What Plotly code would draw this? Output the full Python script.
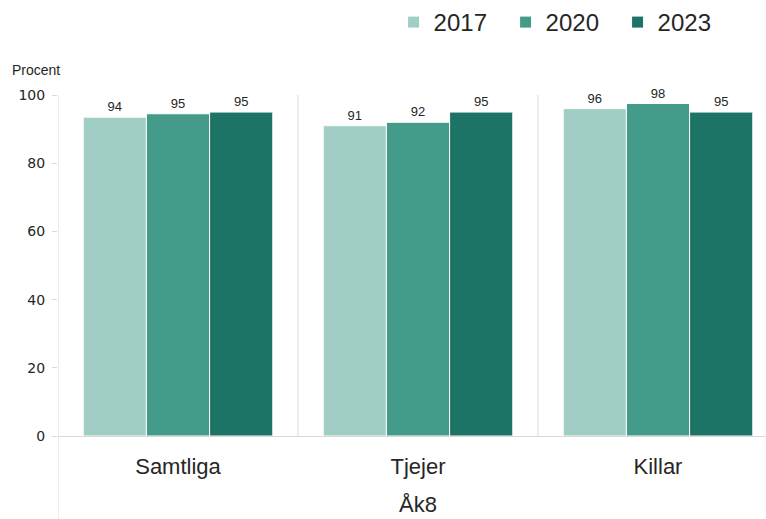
import math
import plotly.graph_objects as go

categories = ["Samtliga", "Tjejer", "Killar"]
group_label = "Åk8"
series_names = ["2017", "2020", "2023"]
v2017 = [93.5, 91.0, 96.0]
v2020 = [94.5, 92.0, 97.5]
v2023 = [95.0, 95.0, 95.0]
y_ticks = [0, 20, 40, 60, 80, 100]
y_title = "Procent"

colors = ["#A0CEC4", "#449B89", "#1C7366"]
FONT = "Liberation Sans"
WIDE = "DejaVu Sans"
TXT = "#262626"
GRID = "#D9D9D9"


def lab(v):
    return str(int(math.floor(v + 0.5)))


fig = go.Figure()
for name, vals, col in zip(series_names, [v2017, v2020, v2023], colors):
    fig.add_trace(go.Bar(
        x=categories, y=vals, name=name,
        marker=dict(color=col, line=dict(color="white", width=1)),
        text=[lab(v) for v in vals], textposition="outside",
        textfont=dict(size=13, color=TXT, family=FONT),
        cliponaxis=False,
    ))

fig.update_layout(
    width=766, height=519,
    margin=dict(l=58, r=0, t=95, b=83),
    plot_bgcolor="white", paper_bgcolor="white",
    barmode="group", bargap=0.21, bargroupgap=0,
    font=dict(family=FONT, color=TXT),
    showlegend=True,
    legend=dict(orientation="h", x=0.474, xanchor="left", y=1.214, yanchor="middle",
                font=dict(size=24, color=TXT, family=FONT),
                entrywidth=67, entrywidthmode="pixels", traceorder="normal"),
)
fig.update_xaxes(
    range=[-0.5, 2.45], showline=True, linecolor=GRID, linewidth=1,
    ticks="", showgrid=False, tickfont=dict(size=22, color=TXT, family=FONT),
    ticklabelstandoff=11, fixedrange=True,
)
fig.update_yaxes(
    range=[0, 100], tickvals=y_ticks, showgrid=False, zeroline=False,
    showline=False, ticks="outside", ticklen=5, tickcolor=GRID,
    tickfont=dict(size=14, color=TXT, family=WIDE), ticklabelstandoff=4,
)

# group separators and left axis line
for xs in [0.5, 1.5]:
    fig.add_shape(type="line", xref="x", yref="y", x0=xs, x1=xs, y0=0, y1=100,
                  line=dict(color=GRID, width=1), layer="below")
fig.add_shape(type="line", xref="x", yref="paper", x0=-0.5, x1=-0.5, y0=-0.25, y1=1,
              line=dict(color=GRID, width=1), layer="below")

fig.add_annotation(text=group_label, xref="x", yref="paper", x=1, y=-0.202,
                   showarrow=False, yanchor="middle",
                   font=dict(size=22, color=TXT, family=FONT))
fig.add_annotation(text=y_title, xref="paper", yref="paper", x=-0.0678, y=1.073,
                   xanchor="left", yanchor="middle", showarrow=False,
                   font=dict(size=14, color=TXT, family=FONT))

fig.write_html("out.html", config={"displayModeBar": False},
               post_script="document.body.style.margin='0px';document.body.style.overflow='hidden';")
